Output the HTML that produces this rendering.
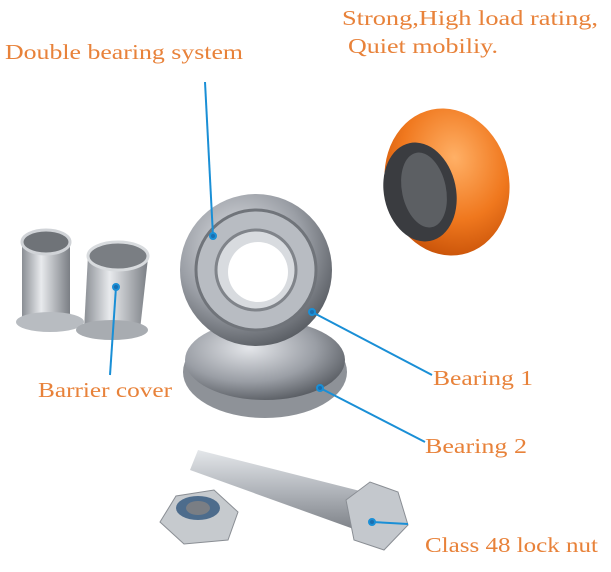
<!DOCTYPE html>
<html><head><meta charset="utf-8"><style>
html,body{margin:0;padding:0;background:#fff;}
svg{display:block}
text{font-family:"Liberation Serif",serif;fill:#e8823a;font-size:21px;}
</style></head><body>
<svg width="611" height="572" viewBox="0 0 611 572" xmlns="http://www.w3.org/2000/svg">
<defs>
<radialGradient id="met" cx="40%" cy="35%" r="70%"><stop offset="0" stop-color="#e4e6ea"/><stop offset="0.6" stop-color="#9a9ea5"/><stop offset="1" stop-color="#55595f"/></radialGradient>
<linearGradient id="cyl" x1="0" x2="1"><stop offset="0" stop-color="#8a8e94"/><stop offset="0.4" stop-color="#e8eaed"/><stop offset="1" stop-color="#7a7e84"/></linearGradient>
<linearGradient id="bolt" x1="0" y1="0" x2="0" y2="1"><stop offset="0" stop-color="#e4e7ea"/><stop offset="0.5" stop-color="#b0b4ba"/><stop offset="1" stop-color="#7c8086"/></linearGradient>
<radialGradient id="org" cx="60%" cy="35%" r="70%"><stop offset="0" stop-color="#ffb066"/><stop offset="0.6" stop-color="#f0781e"/><stop offset="1" stop-color="#c85208"/></radialGradient>
</defs>
<text x="342" y="25" textLength="256" lengthAdjust="spacingAndGlyphs">Strong,High load rating,</text>
<text x="348" y="53" textLength="150" lengthAdjust="spacingAndGlyphs">Quiet mobiliy.</text>
<text x="5" y="59" textLength="238" lengthAdjust="spacingAndGlyphs">Double bearing system</text>
<!-- wheel -->
<ellipse cx="447" cy="182" rx="62" ry="74" fill="url(#org)" transform="rotate(-12 447 182)"/>
<ellipse cx="420" cy="192" rx="36" ry="50" fill="#3a3c40" transform="rotate(-12 420 192)"/>
<ellipse cx="424" cy="190" rx="22" ry="38" fill="#5c5f63" transform="rotate(-12 424 190)"/>
<!-- bushings -->
<rect x="22" y="242" width="48" height="80" fill="url(#cyl)"/>
<ellipse cx="46" cy="242" rx="24" ry="12" fill="#6f7378" stroke="#d0d3d7" stroke-width="3"/>
<ellipse cx="50" cy="322" rx="34" ry="10" fill="#b8bcc1"/>
<polygon points="88,255 148,258 140,330 84,330" fill="url(#cyl)"/>
<ellipse cx="118" cy="256" rx="30" ry="14" fill="#7a7e83" stroke="#d8dbde" stroke-width="3"/>
<ellipse cx="112" cy="330" rx="36" ry="10" fill="#a8acb1"/>
<!-- bearing 2 -->
<ellipse cx="265" cy="372" rx="82" ry="46" fill="#8e9298"/>
<ellipse cx="265" cy="360" rx="80" ry="40" fill="url(#met)"/>
<!-- bearing 1 -->
<circle cx="256" cy="270" r="76" fill="url(#met)"/>
<circle cx="256" cy="270" r="60" fill="#b8bcc2" stroke="#70747a" stroke-width="3"/>
<circle cx="256" cy="270" r="40" fill="#d8dbdf" stroke="#80848a" stroke-width="3"/>
<circle cx="258" cy="272" r="30" fill="#fff"/>
<!-- bolt -->
<polygon points="190,470 198,450 372,494 362,532" fill="url(#bolt)"/>
<polygon points="346,500 370,482 398,492 408,525 384,550 354,540" fill="#c4c8cd" stroke="#8a8e94"/>
<!-- nut -->
<polygon points="160,522 176,496 214,490 238,512 228,540 184,544" fill="#c6cace" stroke="#8a8e94"/>
<ellipse cx="198" cy="508" rx="22" ry="12" fill="#4d6c8c"/>
<ellipse cx="198" cy="508" rx="12" ry="7" fill="#7a7e84"/>
<!-- leaders -->
<g stroke="#1a8fd6" stroke-width="2" fill="#1a6fb0">
<line x1="205" y1="82" x2="213" y2="236"/><circle cx="213" cy="236" r="3"/>
<line x1="116" y1="287" x2="110" y2="375"/><circle cx="116" cy="287" r="3"/>
<line x1="312" y1="312" x2="432" y2="375"/><circle cx="312" cy="312" r="3"/>
<line x1="320" y1="388" x2="425" y2="442"/><circle cx="320" cy="388" r="3"/>
<line x1="372" y1="522" x2="408" y2="524"/><circle cx="372" cy="522" r="3"/>
</g>
<text x="38" y="397" textLength="134" lengthAdjust="spacingAndGlyphs">Barrier cover</text>
<text x="433" y="385" textLength="100" lengthAdjust="spacingAndGlyphs">Bearing 1</text>
<text x="425" y="453" textLength="102" lengthAdjust="spacingAndGlyphs">Bearing 2</text>
<text x="425" y="552" textLength="173" lengthAdjust="spacingAndGlyphs">Class 48 lock nut</text>
</svg>
</body></html>
